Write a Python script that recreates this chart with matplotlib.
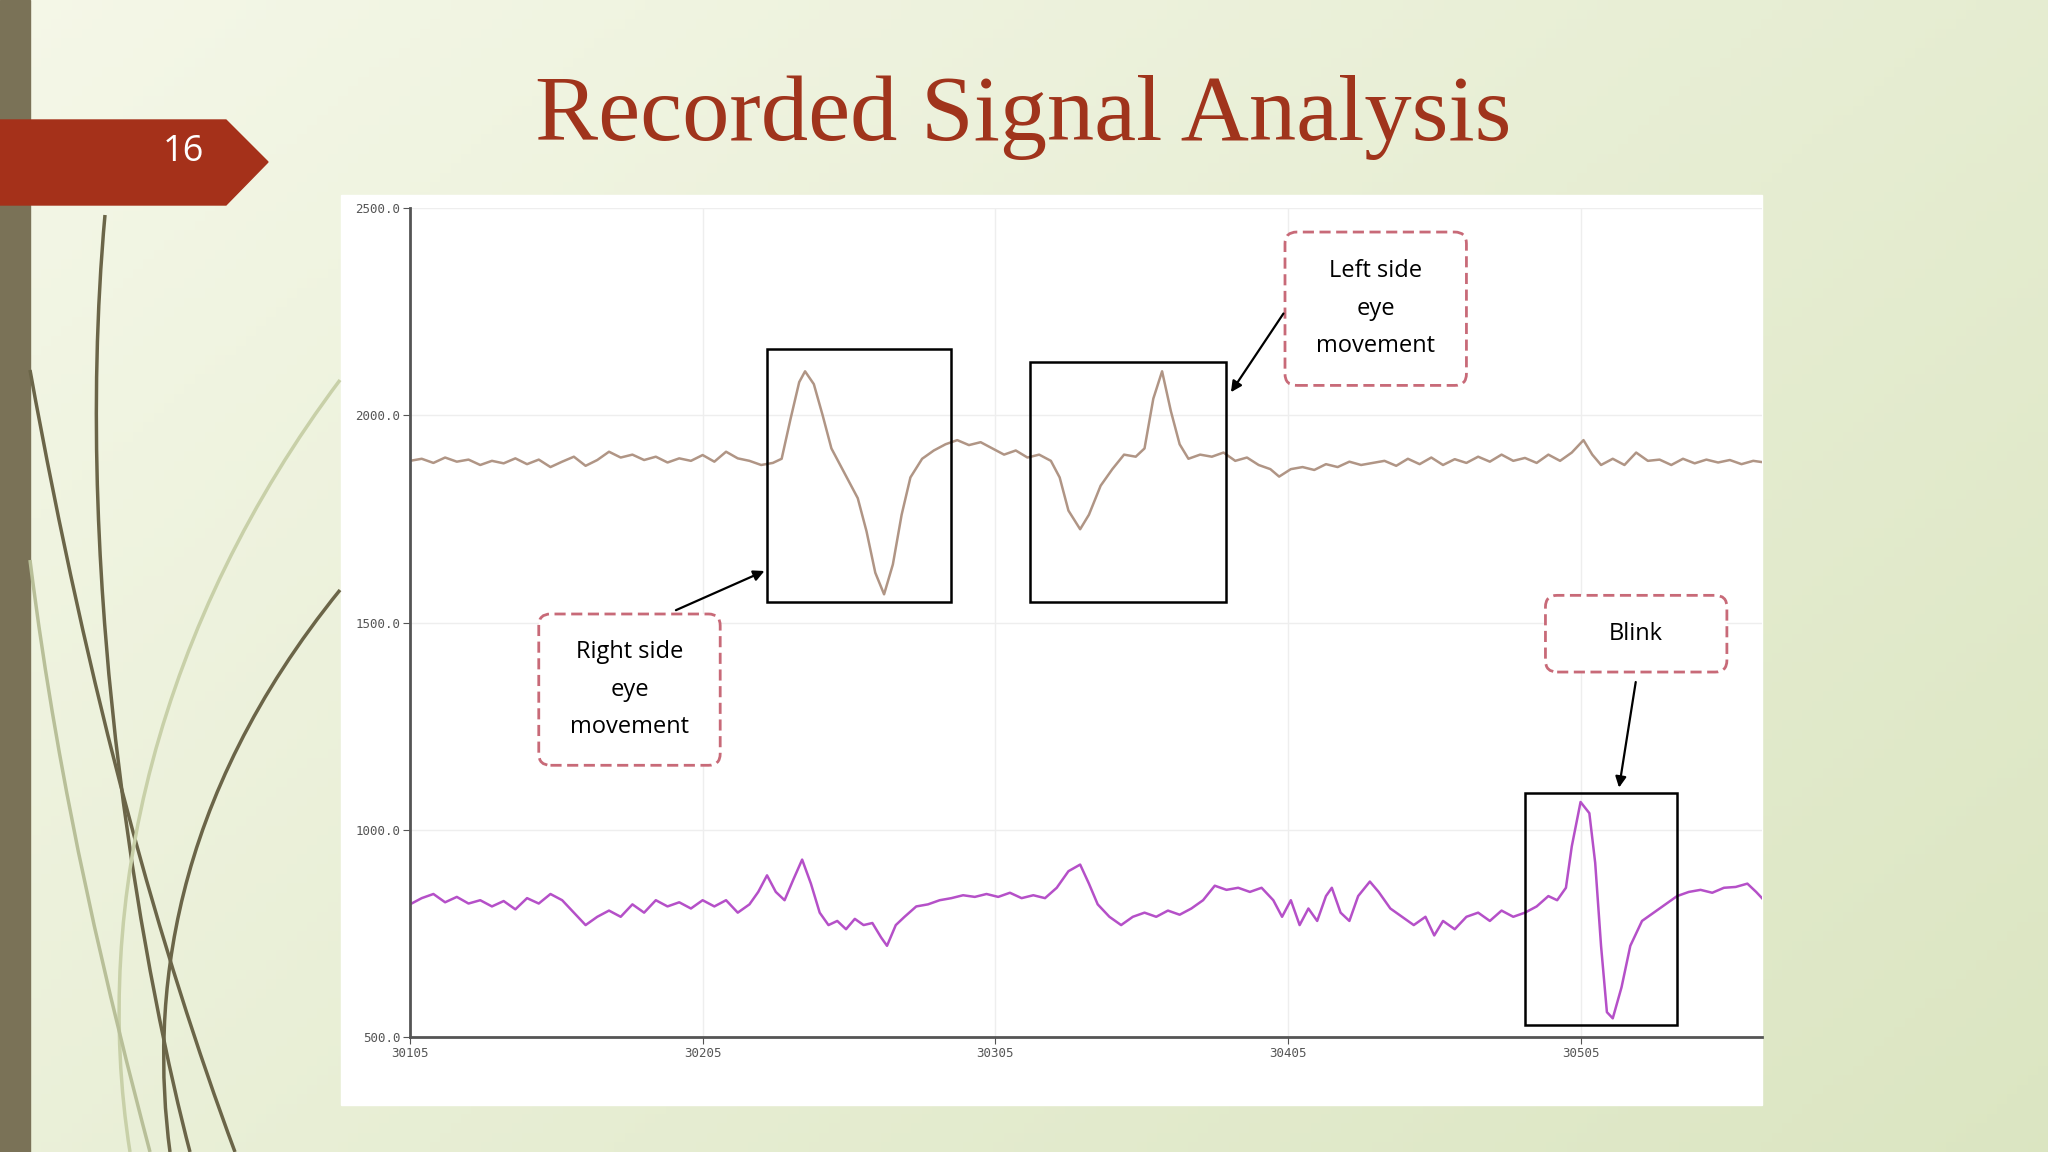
import numpy as np
import matplotlib
matplotlib.use("Agg")
import matplotlib.pyplot as plt
from matplotlib.patches import Rectangle, FancyBboxPatch, Polygon
from matplotlib.path import Path
from matplotlib.patches import PathPatch

title = "Recorded Signal Analysis"
slide_no = "16"
xticks = [30105, 30205, 30305, 30405, 30505]
xticklabels = ["30105", "30205", "30305", "30405", "30505"]
yticks = [500, 1000, 1500, 2000, 2500]
yticklabels = ["500.0", "1000.0", "1500.0", "2000.0", "2500.0"]

upper_x = [30105,30109,30113,30117,30121,30125,30129,30133,30137,30141,30145,30149,30153,30157,30161,30165,30169,30173,30177,30181,30185,30189,30193,30197,30201,30205,30209,30213,30217,30221,30225,30229,30232,30235,30238,30240,30243,30246,30249,30252,30255,30258,30261,30264,30267,30270,30273,30276,30280,30284,30288,30292,30296,30300,30304,30308,30312,30316,30320,30324,30327,30330,30334,30337,30341,30345,30349,30353,30356,30359,30362,30365,30368,30371,30375,30379,30383,30387,30391,30395,30399,30402,30406,30410,30414,30418,30422,30426,30430,30434,30438,30442,30446,30450,30454,30458,30462,30466,30470,30474,30478,30482,30486,30490,30494,30498,30502,30506,30509,30512,30516,30520,30524,30528,30532,30536,30540,30544,30548,30552,30556,30560,30564,30567]
upper_y = [1890,1895,1885,1898,1888,1893,1880,1890,1884,1896,1882,1893,1875,1888,1900,1878,1892,1912,1898,1905,1892,1900,1886,1896,1890,1904,1888,1912,1896,1890,1880,1885,1895,1990,2080,2106,2075,2000,1920,1880,1840,1800,1720,1620,1568,1640,1760,1850,1895,1915,1930,1940,1928,1935,1920,1905,1915,1898,1905,1890,1850,1770,1725,1760,1830,1870,1905,1900,1920,2040,2106,2010,1930,1895,1905,1900,1910,1890,1898,1880,1870,1852,1870,1875,1868,1882,1875,1888,1880,1885,1890,1878,1895,1882,1898,1880,1894,1885,1900,1888,1905,1890,1897,1885,1905,1890,1910,1940,1905,1880,1895,1880,1910,1890,1893,1880,1895,1884,1893,1886,1892,1882,1890,1887]

lower_x = [30105,30109,30113,30117,30121,30125,30129,30133,30137,30141,30145,30149,30153,30157,30161,30165,30169,30173,30177,30181,30185,30189,30193,30197,30201,30205,30209,30213,30217,30221,30224,30227,30230,30233,30236,30239,30242,30245,30248,30251,30254,30257,30260,30263,30266,30268,30271,30274,30278,30282,30286,30290,30294,30298,30302,30306,30310,30314,30318,30322,30326,30330,30334,30337,30340,30344,30348,30352,30356,30360,30364,30368,30372,30376,30380,30384,30388,30392,30396,30400,30403,30406,30409,30412,30415,30418,30420,30423,30426,30429,30433,30436,30440,30444,30448,30452,30455,30458,30462,30466,30470,30474,30478,30482,30486,30490,30494,30497,30500,30502,30505,30508,30510,30512,30514,30516,30519,30522,30526,30530,30534,30538,30542,30546,30550,30554,30558,30562,30565,30567]
lower_y = [820,835,845,825,838,822,830,815,828,808,835,822,845,830,800,770,790,805,790,820,800,830,815,825,810,830,815,830,800,820,850,890,850,830,880,928,870,800,770,780,760,785,770,775,740,720,770,790,815,820,830,835,842,838,845,838,848,835,842,835,860,900,916,870,820,790,770,790,800,790,805,795,810,830,865,855,860,850,860,830,790,830,770,810,780,840,860,800,780,840,875,850,810,790,770,790,745,780,760,790,800,780,805,790,800,815,840,830,860,960,1067,1040,920,720,560,545,620,720,780,800,820,840,850,855,848,860,862,870,850,835]

boxes = [(30227, 1549, 30290, 2160), (30317, 1549, 30384, 2128), (30486, 528, 30538, 1089)]
notes = [("Left side\neye\nmovement", 30435, 2257, 62, 370, (30404, 2251), (30385, 2050)),
         ("Right side\neye\nmovement", 30180, 1338, 62, 365, (30195, 1527), (30227, 1627)),
         ("Blink", 30524, 1473, 62, 185, (30524, 1363), (30518, 1095))]

fig = plt.figure(figsize=(20.48, 11.52), dpi=100)
bg = fig.add_axes([0, 0, 1, 1])
gx, gy = np.meshgrid(np.linspace(0, 1, 200), np.linspace(0, 1, 120))
t = np.clip(0.6 * gx + 0.4 * gy, 0, 1)[..., None]
c0 = np.array([0.96, 0.97, 0.91]); c1 = np.array([0.86, 0.90, 0.76])
bg.imshow(c0 * (1 - t) + c1 * t, extent=[0, 1, 0, 1], aspect="auto", origin="upper")
bg.set_xlim(0, 1); bg.set_ylim(0, 1); bg.axis("off")
W, H = 2048, 1152
def P(x, y): return (x / W, 1 - y / H)
bg.add_patch(Rectangle((0, 0), 30 / W, 1, color="#7a7257", zorder=2))
curves = [[(105, 215), (70, 600), (150, 1000), (190, 1152)],
          [(30, 370), (90, 700), (160, 950), (235, 1152)],
          [(340, 590), (170, 800), (150, 1000), (170, 1152)],
          [(340, 380), (160, 620), (90, 900), (130, 1152)],
          [(30, 560), (60, 800), (110, 1000), (150, 1152)]]
cols = ["#6b6548", "#6b6548", "#6b6548", "#c8d0a8", "#b8bf98"]
for cv, cc in zip(curves, cols):
    pts = [P(*p) for p in cv]
    bg.add_patch(PathPatch(Path(pts, [Path.MOVETO, Path.CURVE4, Path.CURVE4, Path.CURVE4]),
                           fill=False, ec=cc, lw=2.5, zorder=3))
bg.add_patch(Polygon([P(0, 120), P(226, 120), P(268, 162), P(226, 205), P(0, 205)], color="#a5311a", zorder=4))
bg.text(*P(183, 152), slide_no, color="white", fontsize=26, family="Open Sans", ha="center", va="center", zorder=5)
bg.text(*P(1023, 117), title, color="#a0341c", fontsize=68, family="Liberation Serif", ha="center", va="center")
bg.add_patch(Rectangle(P(341, 1105), 1421 / W, 910 / H, color="white", zorder=1))

ax = fig.add_axes([410 / W, 1 - 1037 / H, (1762 - 410) / W, (1037 - 208) / H])
ax.set_facecolor("white")
ax.set_xlim(30105, 30567); ax.set_ylim(500, 2500)
for s in ["top", "right"]: ax.spines[s].set_visible(False)
for s in ["left", "bottom"]:
    ax.spines[s].set_color("#555555"); ax.spines[s].set_linewidth(2)
ax.set_xticks(xticks); ax.set_xticklabels(xticklabels, family="DejaVu Sans Mono", fontsize=9, color="#555555")
ax.set_yticks(yticks); ax.set_yticklabels(yticklabels, family="DejaVu Sans Mono", fontsize=9, color="#555555")
ax.tick_params(length=5, color="#555555", pad=2)
ax.grid(True, color="#eeeeee", lw=1)
ax.plot(upper_x, upper_y, color="#b09585", lw=1.8)
ax.plot(lower_x, lower_y, color="#b550c8", lw=1.8)
for x0, y0, x1, y1 in boxes:
    ax.add_patch(Rectangle((x0, y0), x1 - x0, y1 - y0, fill=False, ec="black", lw=1.8, zorder=4))
for txt, cx, cy, w, h, a0, a1 in notes:
    ax.add_patch(FancyBboxPatch((cx - w / 2, cy - h / 2), w, h, boxstyle="round,pad=0,rounding_size=4",
                                mutation_aspect=7, fc="white", ec="#c86a78", lw=2, ls=(0, (4, 2)), zorder=5))
    ax.text(cx, cy, txt, ha="center", va="center", fontsize=17, family="Open Sans", linespacing=1.75, zorder=6)
    ax.annotate("", xy=a1, xytext=a0, arrowprops=dict(arrowstyle="-|>", color="black", lw=1.6, mutation_scale=16), zorder=6)
fig.savefig("out.png", dpi=100)
